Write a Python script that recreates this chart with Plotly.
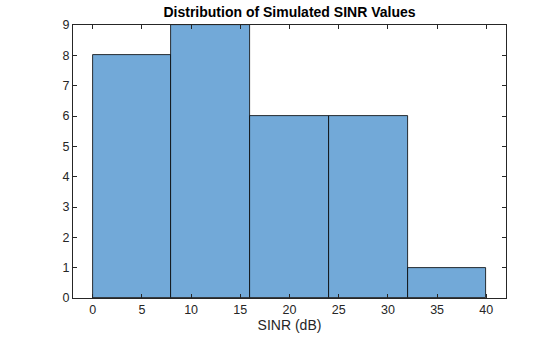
import plotly.graph_objects as go

# Histogram of simulated SINR values (dB)
bin_edges = [0, 8, 16, 24, 32, 40]
counts = [8, 9, 6, 6, 1]

centers = [(a + b) / 2 for a, b in zip(bin_edges[:-1], bin_edges[1:])]
widths = [b - a for a, b in zip(bin_edges[:-1], bin_edges[1:])]

FONT = "Liberation Sans, Arial, sans-serif"

fig = go.Figure(
    go.Bar(
        x=centers,
        y=counts,
        width=widths,
        marker=dict(color="rgb(114,169,216)", line=dict(color="#000000", width=0.8)),
        hoverinfo="x+y",
    )
)

axis_common = dict(
    showgrid=False,
    zeroline=False,
    showline=True,
    linecolor="#262626",
    linewidth=1,
    mirror="ticks",
    ticks="inside",
    ticklen=4,
    tickcolor="#262626",
    tickfont=dict(family=FONT, size=12.5, color="#262626"),
    automargin=False,
)

fig.update_layout(
    width=560,
    height=337,
    margin=dict(l=73, r=54, t=25, b=39),
    paper_bgcolor="white",
    plot_bgcolor="white",
    showlegend=False,
    bargap=0,
    title=dict(
        text="<b>Distribution of Simulated SINR Values</b>",
        x=(73 + 506) / 2 / 560,
        xanchor="center",
        y=1 - 12 / 337,
        yanchor="middle",
        font=dict(family=FONT, size=14, color="#000000"),
    ),
    xaxis=dict(
        range=[-2, 42],
        tickmode="array",
        tickvals=[0, 5, 10, 15, 20, 25, 30, 35, 40],
        title=dict(
            text="SINR (dB)",
            font=dict(family=FONT, size=14, color="#262626"),
            standoff=4,
        ),
        **axis_common,
    ),
    yaxis=dict(
        range=[0, 9],
        tickmode="array",
        tickvals=list(range(0, 10)),
        **axis_common,
    ),
)

fig.write_html("out.html")
